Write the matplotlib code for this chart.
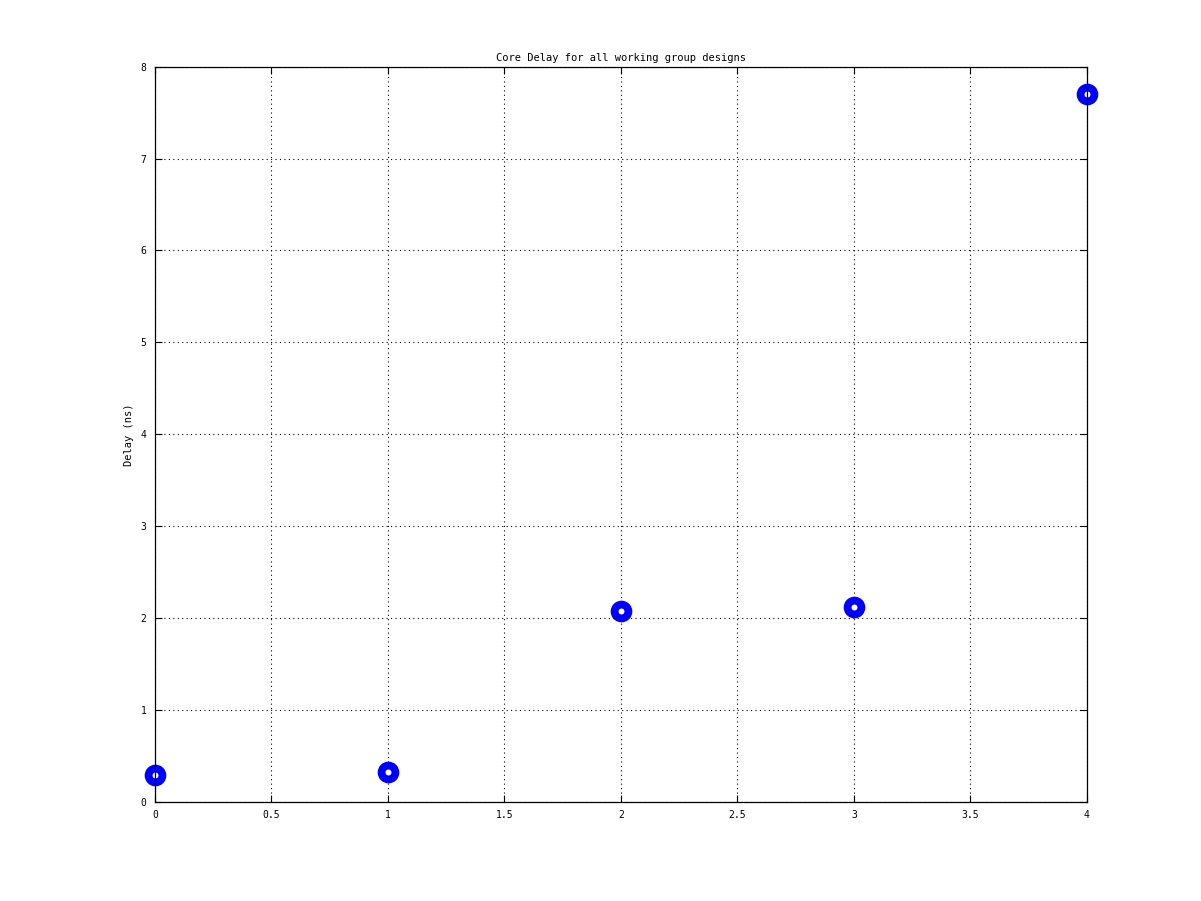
import numpy as np
import matplotlib.pyplot as plt

# Design index and measured core delay (ns)
designs = [0, 1, 2, 3, 4]
delay_ns = [0.29, 0.33, 2.08, 2.12, 7.70]

plt.rcParams['font.family'] = 'DejaVu Sans Mono'
plt.rcParams['font.size'] = 7

fig = plt.figure(figsize=(12.01, 9.01), dpi=100)
ax = fig.add_axes([0.129, 0.110, 0.776, 0.816])

ax.plot(designs, delay_ns, linestyle='none', marker='o',
        markersize=10, markeredgewidth=5.6,
        markeredgecolor='#0000ff', markerfacecolor='white', clip_on=False)

ax.set_xlim(0, 4)
ax.set_ylim(0, 8)
ax.set_xticks(np.arange(0, 4.01, 0.5))
ax.set_xticklabels(['0', '0.5', '1', '1.5', '2', '2.5', '3', '3.5', '4'])
ax.set_yticks(range(0, 9))

ax.grid(True, linestyle=(0, (1, 3)), color='black', linewidth=0.8)
ax.tick_params(direction='in', length=5, top=True, right=True, pad=6)
for s in ax.spines.values():
    s.set_linewidth(0.9)

ax.set_title('Core Delay for all working group designs', fontsize=7.5, pad=4)
ax.set_ylabel('Delay (ns)', fontsize=7.5, labelpad=5)

fig.savefig('out.png', dpi=100)
